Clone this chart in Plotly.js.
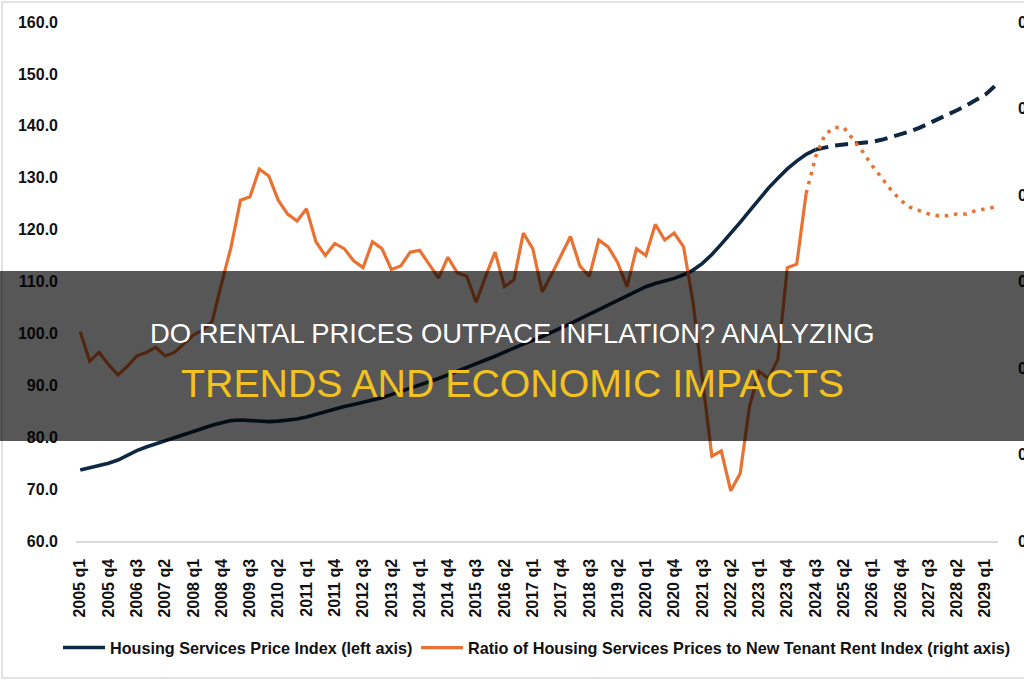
<!DOCTYPE html>
<html>
<head>
<meta charset="utf-8">
<script src="https://cdn.plot.ly/plotly-3.0.1.min.js"></script>
<style>
html,body{margin:0;padding:0;background:#fff;}
#chart{width:1024px;height:680px;}
</style>
</head>
<body>
<div id="chart"></div>
<script>
// Quarters 2005 q1 .. 2029 q2
const quarters = [
"2005 q1","2005 q2","2005 q3","2005 q4","2006 q1","2006 q2","2006 q3","2006 q4",
"2007 q1","2007 q2","2007 q3","2007 q4","2008 q1","2008 q2","2008 q3","2008 q4",
"2009 q1","2009 q2","2009 q3","2009 q4","2010 q1","2010 q2","2010 q3","2010 q4",
"2011 q1","2011 q2","2011 q3","2011 q4","2012 q1","2012 q2","2012 q3","2012 q4",
"2013 q1","2013 q2","2013 q3","2013 q4","2014 q1","2014 q2","2014 q3","2014 q4",
"2015 q1","2015 q2","2015 q3","2015 q4","2016 q1","2016 q2","2016 q3","2016 q4",
"2017 q1","2017 q2","2017 q3","2017 q4","2018 q1","2018 q2","2018 q3","2018 q4",
"2019 q1","2019 q2","2019 q3","2019 q4","2020 q1","2020 q2","2020 q3","2020 q4",
"2021 q1","2021 q2","2021 q3","2021 q4","2022 q1","2022 q2","2022 q3","2022 q4",
"2023 q1","2023 q2","2023 q3","2023 q4","2024 q1","2024 q2","2024 q3","2024 q4",
"2025 q1","2025 q2","2025 q3","2025 q4","2026 q1","2026 q2","2026 q3","2026 q4",
"2027 q1","2027 q2","2027 q3","2027 q4","2028 q1","2028 q2","2028 q3","2028 q4",
"2029 q1","2029 q2"];

// Tick labels shown on the x axis (every third quarter)
const tickLabels = [
"2005 q1","2005 q4","2006 q3","2007 q2","2008 q1","2008 q4","2009 q3","2010 q2",
"2011 q1","2011 q4","2012 q3","2013 q2","2014 q1","2014 q4","2015 q3","2016 q2",
"2017 q1","2017 q4","2018 q3","2019 q2","2020 q1","2020 q4","2021 q3","2022 q2",
"2023 q1","2023 q4","2024 q3","2025 q2","2026 q1","2026 q4","2027 q3","2028 q2","2029 q1"];

// Housing Services Price Index (left axis), 2005 q1 .. 2024 q3 (actual)
const hspiActual = [
73.7,74.1,74.6,75.0,75.6,76.5,77.4,78.1,78.7,79.3,79.9,80.5,81.2,81.8,82.3,82.8,
83.2,83.3,83.2,83.1,83.0,83.1,83.3,83.5,83.9,84.4,85.0,85.5,85.9,86.3,86.7,87.1,
87.6,88.2,88.8,89.4,90.0,90.6,91.3,92.0,92.7,93.4,94.1,94.8,95.6,96.4,97.2,98.0,
98.7,99.4,100.2,101.0,101.9,102.8,103.7,104.6,105.5,106.4,107.3,108.2,109.0,109.6,
110.1,110.6,111.3,112.2,113.5,115.2,117.2,119.2,121.4,123.6,125.9,128.0,129.9,131.7,
133.2,134.5,135.4];
// Housing Services Price Index projection, 2024 q3 .. 2029 q2
const hspiForecast = [
135.4,135.9,136.2,136.4,136.6,136.7,136.9,137.3,137.8,138.3,138.9,139.6,140.4,141.2,
142.1,143.0,143.9,144.9,146.0,147.6];

// Ratio of housing services prices to new tenant rent index (right axis), 2005 q1 .. 2024 q2 (actual)
const ratioActual = [
0.721,0.704,0.709,0.702,0.696,0.701,0.707,0.709,0.712,0.707,0.709,0.714,0.719,0.722,0.727,0.749,
0.770,0.797,0.799,0.815,0.811,0.797,0.789,0.785,0.792,0.773,0.765,0.772,0.769,0.762,0.758,0.773,
0.769,0.757,0.759,0.767,0.768,0.760,0.752,0.764,0.755,0.753,0.738,0.753,0.767,0.747,0.751,0.778,
0.769,0.744,0.754,0.765,0.776,0.759,0.753,0.774,0.770,0.761,0.747,0.769,0.765,0.783,0.774,0.778,
0.770,0.738,0.693,0.649,0.652,0.629,0.639,0.678,0.698,0.694,0.705,0.758,0.760,0.801];
// Ratio projection, 2024 q2 .. 2029 q2
const ratioForecast = [
0.801,0.822,0.835,0.839,0.839,0.832,0.825,0.817,0.810,0.803,0.797,0.793,0.791,0.789,
0.788,0.788,0.789,0.789,0.791,0.792,0.793];

const nHA = hspiActual.length;
const nRA = ratioActual.length;
const xHA = quarters.slice(0, nHA);
const xHF = quarters.slice(nHA - 1, nHA - 1 + hspiForecast.length);
const xRA = quarters.slice(0, nRA);
const xRF = quarters.slice(nRA - 1, nRA - 1 + ratioForecast.length);

const NAVY = '#0E2841';
const ORANGE = '#E97132';
const TXT = '#111111';

const traces = [
  {x: xHA, y: hspiActual, type: 'scatter', mode: 'lines', name: 'Housing Services Price Index (left axis)',
   legend: 'legend', line: {color: NAVY, width: 3.6}, hoverinfo: 'skip'},
  {x: xRA, y: ratioActual, type: 'scatter', mode: 'lines', yaxis: 'y2',
   name: 'Ratio of Housing Services Prices to New Tenant Rent Index (right axis)',
   legend: 'legend2', line: {color: ORANGE, width: 3.2}, hoverinfo: 'skip'},
  {x: xHF, y: hspiForecast, type: 'scatter', mode: 'lines', showlegend: false,
   line: {color: NAVY, width: 4, dash: '13px,7px'}, hoverinfo: 'skip'},
  {x: xRF, y: ratioForecast, type: 'scatter', mode: 'lines', yaxis: 'y2', showlegend: false,
   line: {color: ORANGE, width: 3.5, dash: '3.5px,5.8px'}, hoverinfo: 'skip'}
];

const L = 76, R = 26, T = 22, B = 139;
const W = 1024, H = 680;
const pw = W - L - R, ph = H - T - B;
const px = v => (v - L) / pw;           // pixel x -> paper
const py = v => (H - B - v) / ph;       // pixel y -> paper

const legendFont = {family: 'Liberation Sans, Arial, sans-serif', size: 16.2, weight: 'bold', color: TXT};
const legendBase = {
  orientation: 'h', xref: 'container', yref: 'container',
  xanchor: 'left', y: (H - 648) / H, yanchor: 'middle',
  font: legendFont, itemwidth: 42, bgcolor: 'rgba(0,0,0,0)'
};

const layout = {
  width: W, height: H,
  margin: {l: L, r: R, t: T, b: B, pad: 0, autoexpand: false},
  paper_bgcolor: '#ffffff', plot_bgcolor: '#ffffff',
  showlegend: true,
  xaxis: {
    type: 'category', categoryorder: 'array', categoryarray: quarters,
    range: [-0.45, 97.35],
    tickmode: 'array', tickvals: tickLabels, ticktext: tickLabels,
    tickangle: -90, ticks: '', ticklabelstandoff: 10,
    tickfont: {family: 'Liberation Sans, Arial, sans-serif', size: 16, weight: 'bold', color: TXT},
    showgrid: false, zeroline: false,
    showline: true, linecolor: '#d9d9d9', linewidth: 1.5
  },
  yaxis: {
    range: [60, 160], dtick: 10, tick0: 60, tickformat: '.1f',
    ticks: '', ticklabelstandoff: 17,
    tickfont: {family: 'Liberation Sans, Arial, sans-serif', size: 16, weight: 'bold', color: TXT},
    showgrid: false, zeroline: false, showline: false
  },
  yaxis2: {
    overlaying: 'y', side: 'right',
    range: [0.60, 0.90], dtick: 0.05, tick0: 0.60, tickformat: '.2f',
    ticks: '', ticklabelstandoff: 19,
    tickfont: {family: 'Liberation Sans, Arial, sans-serif', size: 16, weight: 'bold', color: TXT},
    showgrid: false, zeroline: false, showline: false
  },
  legend: Object.assign({}, legendBase, {x: 58 / W}),
  legend2: Object.assign({}, legendBase, {x: 416 / W}),
  shapes: [
    {type: 'rect', xref: 'paper', yref: 'paper', x0: px(2), x1: px(1060), y0: py(678), y1: py(2),
     line: {color: '#d9d9d9', width: 1.5}, fillcolor: 'rgba(0,0,0,0)', layer: 'below'},
    {type: 'rect', xref: 'paper', yref: 'paper', x0: px(-5), x1: px(1030), y0: py(441), y1: py(271),
     line: {width: 0}, fillcolor: 'rgba(0,0,0,0.66)', layer: 'above'}
  ],
  annotations: [
    {xref: 'paper', yref: 'paper', x: px(512), y: py(334), xanchor: 'center', yanchor: 'middle',
     text: 'DO RENTAL PRICES OUTPACE INFLATION? ANALYZING', showarrow: false,
     font: {family: 'Liberation Sans, Arial, sans-serif', size: 27.4, color: '#ffffff'}},
    {xref: 'paper', yref: 'paper', x: px(512), y: py(383), xanchor: 'center', yanchor: 'middle',
     text: 'TRENDS AND ECONOMIC IMPACTS', showarrow: false,
     font: {family: 'Liberation Sans, Arial, sans-serif', size: 39.3, color: '#F4C21F'}}
  ]
};

Plotly.newPlot('chart', traces, layout, {staticPlot: true, displayModeBar: false});
</script>
</body>
</html>
